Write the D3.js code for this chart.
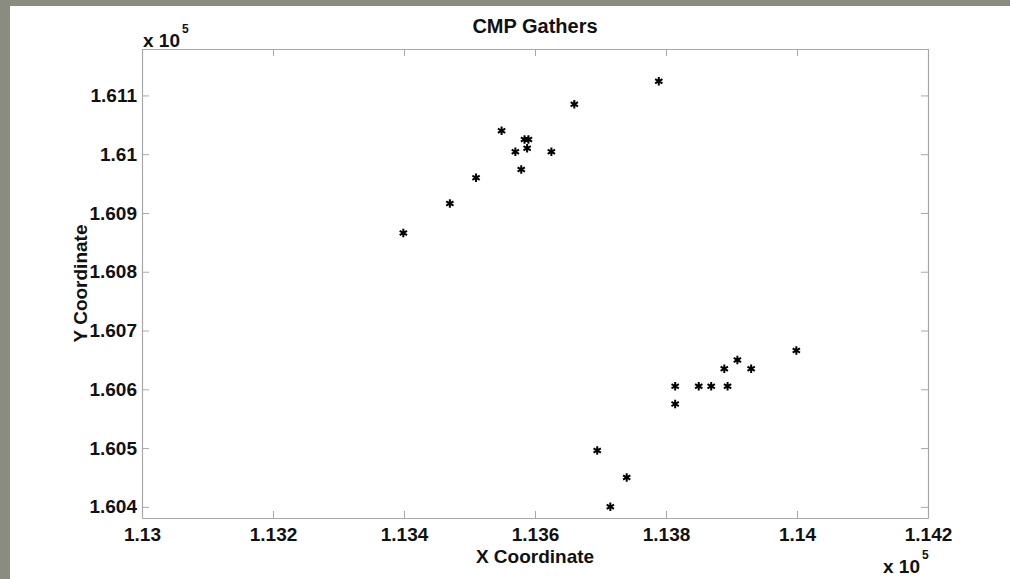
<!DOCTYPE html>
<html>
<head>
<meta charset="utf-8">
<script src="https://cdn.jsdelivr.net/npm/d3@7"></script>
<style>
  html, body { margin: 0; padding: 0; background: #898c7e; }
  svg { display: block; font-family: "Liberation Sans", Arial, sans-serif; }
</style>
</head>
<body>
<div id="chart"></div>
<script>
// CMP gather locations (raw units, axes shown as x 10^5)
const xValues = [113789, 113660, 113549, 113584, 113590, 113570, 113588, 113625,
                 113579, 113510, 113470, 113399,
                 113999, 113909, 113889, 113930, 113814, 113850, 113869, 113894,
                 113814, 113695, 113740, 113715]
const yValues = [161124, 161085, 161040, 161025, 161025, 161004, 161010, 161004,
                 160974, 160960, 160916, 160866,
                 160666, 160650, 160635, 160635, 160605, 160605, 160605, 160605,
                 160575, 160496, 160450, 160400]

const xTicks = [113000, 113200, 113400, 113600, 113800, 114000, 114200]
const yTicks = [160400, 160500, 160600, 160700, 160800, 160900, 161000, 161100]
const xDomain = [113000, 114200]
const yDomain = [160381, 161179]

const points = xValues.map((x, i) => ({ x: x, y: yValues[i] }))

const W = 1010, H = 579
const m = { top: 49, right: 82, bottom: 61, left: 142 }
const w = W - m.left - m.right
const h = H - m.top - m.bottom

const svg = d3.select("#chart").append("svg")
  .attr("width", W).attr("height", H)

// white figure panel on the grey page
svg.append("rect")
  .attr("x", 10).attr("y", 6).attr("width", W - 10).attr("height", H - 6)
  .attr("fill", "#ffffff")

const g = svg.append("g").attr("transform", `translate(${m.left},${m.top})`)

const x = d3.scaleLinear().domain(xDomain).range([0, w])
const y = d3.scaleLinear().domain(yDomain).range([h, 0])

const fmt = d => String(+(d / 1e5).toFixed(3))
const axisColor = "#a8a8a8"
const tickLen = 7

// axes with inward ticks on all four sides (matlab box style)
function styleAxis(sel, labels) {
  sel.select(".domain").attr("stroke", axisColor).attr("stroke-width", 1.2)
  sel.selectAll(".tick line").attr("stroke", axisColor)
  sel.selectAll(".tick text")
    .style("font-size", "19px").style("font-weight", "bold").attr("fill", "#111")
  if (!labels) sel.selectAll(".tick text").remove()
}

g.append("g").attr("transform", `translate(0,${h})`)
  .call(d3.axisBottom(x).tickValues(xTicks).tickFormat(fmt).tickSizeInner(-tickLen).tickSizeOuter(0).tickPadding(10))
  .call(s => styleAxis(s, true))

g.append("g")
  .call(d3.axisTop(x).tickValues(xTicks).tickSizeInner(-tickLen).tickSizeOuter(0))
  .call(s => styleAxis(s, false))

g.append("g")
  .call(d3.axisLeft(y).tickValues(yTicks).tickFormat(fmt).tickSizeInner(-tickLen).tickSizeOuter(0).tickPadding(5))
  .call(s => styleAxis(s, true))

g.append("g").attr("transform", `translate(${w},0)`)
  .call(d3.axisRight(y).tickValues(yTicks).tickSizeInner(-tickLen).tickSizeOuter(0))
  .call(s => styleAxis(s, false))

// asterisk markers
const star = d3.symbol().type(d3.symbolAsterisk).size(50)
g.selectAll(".pt")
  .data(points)
  .join("path")
  .attr("class", "pt")
  .attr("transform", d => `translate(${x(d.x)},${y(d.y)})`)
  .attr("d", star)
  .attr("fill", "none")
  .attr("stroke", "#000")
  .attr("stroke-width", 2)

// title and axis labels
svg.append("text")
  .attr("x", m.left + w / 2).attr("y", 33)
  .attr("text-anchor", "middle")
  .style("font-size", "20px").style("font-weight", "bold").attr("fill", "#111")
  .text("CMP Gathers")

svg.append("text")
  .attr("x", m.left + w / 2).attr("y", 563)
  .attr("text-anchor", "middle")
  .style("font-size", "19px").style("font-weight", "bold").attr("fill", "#111")
  .text("X Coordinate")

svg.append("text")
  .attr("transform", `translate(87,${m.top + h / 2}) rotate(-90)`)
  .attr("text-anchor", "middle")
  .style("font-size", "19px").style("font-weight", "bold").attr("fill", "#111")
  .text("Y Coordinate")

// exponent labels
function expLabel(px, py) {
  const t = svg.append("text").attr("x", px).attr("y", py)
    .style("font-size", "19px").style("font-weight", "bold").attr("fill", "#111")
  t.append("tspan").text("x 10")
  t.append("tspan").attr("dx", 2).attr("dy", -14).style("font-size", "12px").text("5")
}
expLabel(143, 47)
expLabel(883, 573)
</script>
</body>
</html>
